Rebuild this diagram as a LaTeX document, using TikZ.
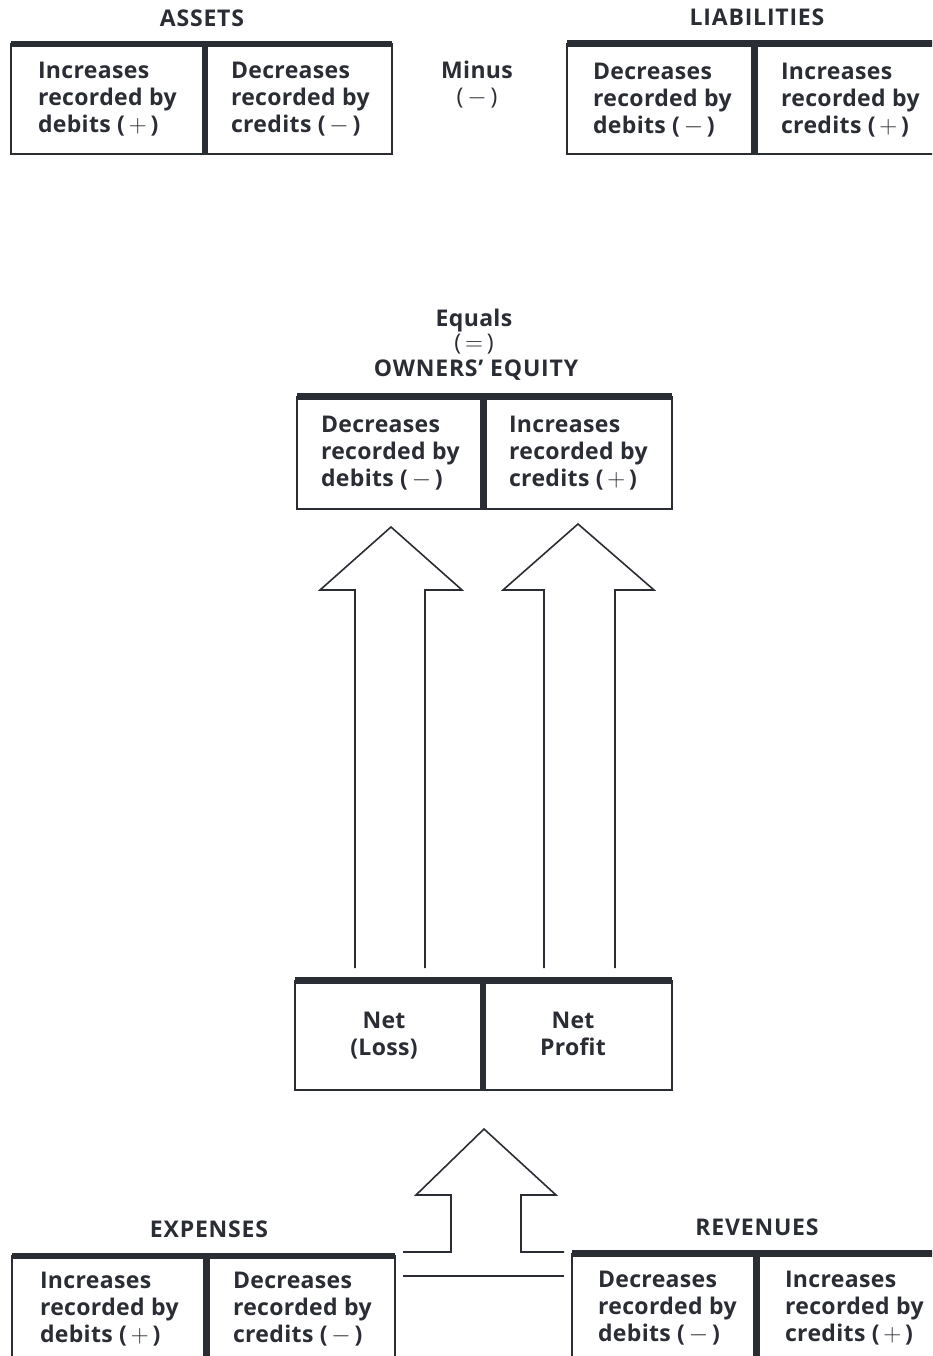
\documentclass[tikz,border=0pt]{standalone}
\usepackage{fontspec}
\setmainfont{Open Sans}
\definecolor{ink}{HTML}{2A2D33}
\tikzset{
  lbl/.style={inner sep=0pt, outer sep=0pt, text=ink, font=\bfseries\fontsize{23}{27}\selectfont\addfontfeature{LetterSpace=1.5}},
  cell/.style={lbl, anchor=base west},
  ttl/.style={lbl, anchor=base},
  head/.style={ttl, font=\bfseries\fontsize{23}{27}\selectfont\addfontfeature{LetterSpace=3.5}},
  frame/.style={draw=ink, line width=1.5pt},
  bar/.style={draw=ink, line width=6.5pt},
  blockarrow/.style={draw=ink, line width=1.6pt, line join=miter},
}
\newcommand{\celltext}[3]{\begin{tabular}[t]{@{}l@{}}#1\\#2\\#3\end{tabular}}
\newcommand{\pl}{(\,$+$\,)}
\newcommand{\mi}{(\,$-$\,)}
\begin{document}
\begin{tikzpicture}[x=1pt,y=-1pt]
\useasboundingbox (0,0) rectangle (932,1356);
\clip (0,0) rectangle (932,1356);
\fill[white] (0,0) rectangle (932,1356);

% ---------- ASSETS ----------
\node[head] (assetsT) at (202,27) {ASSETS};
\draw[frame] (11,44) rectangle (392,154);
\draw[bar] (11,44) -- (392,44);
\draw[bar] (205,44) -- (205,154);
\node[cell] (assetsL) at (38,79) {\celltext{Increases}{recorded by}{debits \pl}};
\node[cell] (assetsR) at (231,79) {\celltext{Decreases}{recorded by}{credits \mi}};

% ---------- Minus ----------
\node[ttl] (minus) at (477,79) {Minus};
\node[ttl] (minusS) at (477,105) {\mdseries\mi};

% ---------- LIABILITIES ----------
\node[head] (liabT) at (757,26) {LIABILITIES};
\draw[frame] (567,43.5) rectangle (945,154);
\draw[bar] (567,43.5) -- (945,43.5);
\draw[bar] (754.5,43.5) -- (754.5,154);
\node[cell] (liabL) at (593,80) {\celltext{Decreases}{recorded by}{debits \mi}};
\node[cell] (liabR) at (781,80) {\celltext{Increases}{recorded by}{credits \pl}};

% ---------- OWNERS' EQUITY ----------
\node[ttl] (equals) at (474,326) {Equals};
\node[ttl] (equalsS) at (474,350) {\mdseries (\,$=$\,)};
\node[head] (equityT) at (476,376) {OWNERS’ EQUITY};
\draw[frame] (297,396.5) rectangle (672,509);
\draw[bar] (297,396.5) -- (672,396.5);
\draw[bar] (483.5,396.5) -- (483.5,509);
\node[cell] (equityL) at (321,432) {\celltext{Decreases}{recorded by}{debits \mi}};
\node[cell] (equityR) at (509,432) {\celltext{Increases}{recorded by}{credits \pl}};

% ---------- up arrows to equity ----------
\draw[blockarrow] (355,968) -- (355,590) -- (320,590) -- (391,527) -- (462,590) -- (425,590) -- (425,968);
\draw[blockarrow] (544,968) -- (544,590) -- (503,590) -- (578,524) -- (654,590) -- (615,590) -- (615,968);

% ---------- NET box ----------
\draw[frame] (295,980.5) rectangle (672,1090);
\draw[bar] (295,980.5) -- (672,980.5);
\draw[bar] (483,980.5) -- (483,1090);
\node[ttl] (netL1) at (384,1028) {Net};
\node[ttl] (netL2) at (384,1055) {(Loss)};
\node[ttl] (netR1) at (573,1028) {Net};
\node[ttl] (netR2) at (573,1055) {Profit};

% ---------- bottom arrow ----------
\draw[blockarrow] (403,1252) -- (451,1252) -- (451,1195) -- (416,1195) -- (484,1129) -- (556,1195) -- (521,1195) -- (521,1252) -- (564,1252);
\draw[blockarrow] (403,1276) -- (564,1276);

% ---------- EXPENSES ----------
\node[head] (expT) at (209,1237) {EXPENSES};
\draw[frame] (12,1256) rectangle (395,1380);
\draw[bar] (12,1256) -- (395,1256);
\draw[bar] (206.5,1256) -- (206.5,1380);
\node[cell] (expL) at (40,1288) {\celltext{Increases}{recorded by}{debits \pl}};
\node[cell] (expR) at (233,1288) {\celltext{Decreases}{recorded by}{credits \mi}};

% ---------- REVENUES ----------
\node[head] (revT) at (757,1235) {REVENUES};
\draw[frame] (572,1253.5) rectangle (945,1380);
\draw[bar] (572,1253.5) -- (945,1253.5);
\draw[bar] (756.5,1253.5) -- (756.5,1380);
\node[cell] (revL) at (598,1287) {\celltext{Decreases}{recorded by}{debits \mi}};
\node[cell] (revR) at (785,1287) {\celltext{Increases}{recorded by}{credits \pl}};
\end{tikzpicture}
\end{document}
